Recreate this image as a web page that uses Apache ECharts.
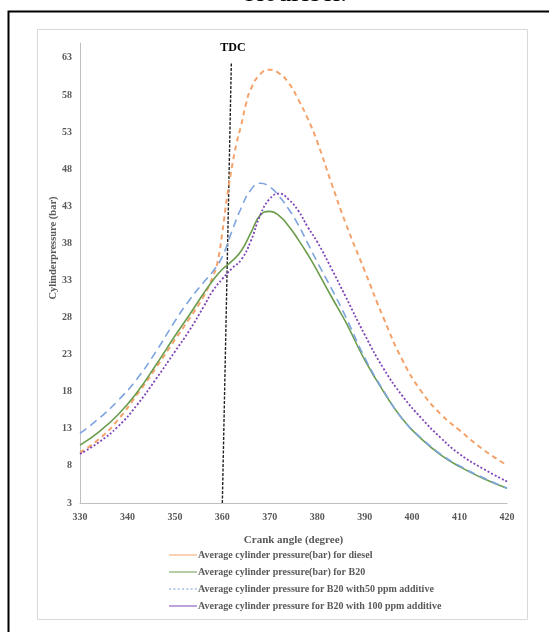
<!DOCTYPE html>
<html>
<head>
<meta charset="utf-8">
<script src="https://cdn.jsdelivr.net/npm/echarts@6/dist/echarts.min.js"></script>
<style>html,body{margin:0;padding:0;background:#fff;}#c{width:549px;height:632px;}</style>
</head>
<body>
<div id="c"></div>
<script>
// ---- data ----
var crankAngle = [330,334,338,342,346,350,353,356,358,360,362,364,366,368,370,372,374,376,378,380,383,386,390,394,398,402,406,410,415,420];
var b20P       = [10.8,12.6,14.9,17.9,21.6,25.5,28.3,31.2,33.0,34.5,35.6,37.0,39.4,41.8,42.3,41.7,40.3,38.5,36.5,34.3,30.8,27.4,22.3,18.0,14.3,11.6,9.5,7.9,6.3,5.0];
var b20Add50P  = [12.4,14.4,16.8,19.7,23.4,27.5,30.3,32.7,34.2,36.2,39.6,42.8,45.2,46.1,45.6,44.3,42.6,40.5,38.0,35.5,31.9,28.1,22.6,18.1,14.3,11.7,9.6,8.0,6.4,5.0];
var b20Add100P = [9.6,11.2,13.3,16.2,19.7,23.4,26.2,29.4,31.6,33.2,34.6,35.8,38.3,41.8,44.0,44.7,43.9,42.4,40.2,38.2,34.6,30.8,25.7,21.1,17.4,14.4,11.8,9.6,7.6,5.9];
var dieselAngle = [330,334,338,342,346,350,353,356,358,359,360,361,362,363,364,365,366,368,370,372,374,376,378,380,383,386,390,394,398,402,406,410,415,420];
var dieselP     = [9.8,11.6,14.2,17.6,21.2,25.0,27.8,30.8,33.5,35.5,39.5,44.3,48.2,51.5,54.0,56.8,58.8,60.8,61.4,60.9,59.6,57.4,54.8,51.7,46.1,40.7,34.3,27.9,22.2,18.0,15.0,12.8,10.2,8.1];
var tdcAngle    = [360, 361.9];
var tdcPressure = [3, 62.4];
var seriesNames = [
  'Average cylinder pressure(bar) for diesel',
  'Average cylinder pressure(bar) for B20',
  'Average cylinder pressure for B20 with50 ppm additive',
  'Average cylinder pressure for B20 with 100 ppm additive'
];
var xTicks = {min: 330, max: 420, step: 10};
var yTicks = {min: 3, max: 65, step: 5};

function zip(xs, ys){ return xs.map(function(x,i){ return [x, ys[i]]; }); }

var FONT = "'Liberation Serif','Times New Roman',serif";
var GREY = '#595959';
var LINE_ICON = 'path://M0,0L28,0L28,1L0,1Z';
var DOT_ICON = 'path://M0,0L2,0L2,1L0,1ZM4,0L6,0L6,1L4,1ZM8,0L10,0L10,1L8,1ZM12,0L14,0L14,1L12,1ZM16,0L18,0L18,1L16,1ZM20,0L22,0L22,1L20,1ZM24,0L26,0L26,1L24,1Z';

var chart = echarts.init(document.getElementById('c'), null, {renderer:'canvas'});
chart.setOption({
  animation: false,
  backgroundColor: '#fff',
  graphic: [
    {type:'rect', shape:{x:8.5, y:11.5, width:600, height:700}, style:{fill:'none', stroke:'#000', lineWidth:2}, silent:true, z:-10},
    {type:'rect', shape:{x:37.5, y:29.5, width:490, height:590}, style:{fill:'none', stroke:'#D9D9D9', lineWidth:1}, silent:true, z:-9},
    {type:'text', x:295, y:-6, style:{text:'biodiesel.', font:'27px '+FONT, fill:'#000', textAlign:'center', textVerticalAlign:'middle'}, silent:true},
    {type:'text', x:53, y:248, rotation:Math.PI/2, style:{text:'Cylinderpressure (bar)', font:'bold 10.5px '+FONT, fill:GREY, textAlign:'center', textVerticalAlign:'middle'}, silent:true},
    {type:'text', x:233, y:48, style:{text:'TDC', font:'bold 12px '+FONT, fill:'#000', textAlign:'center', textVerticalAlign:'middle'}, silent:true}
  ],
  grid: {left:80, right:42, top:43, bottom:129, containLabel:false},
  xAxis: {
    type:'value', min:xTicks.min, max:xTicks.max, interval:xTicks.step,
    name:'Crank angle (degree)', nameLocation:'middle', nameGap:32,
    nameTextStyle:{fontFamily:FONT, fontWeight:'bold', fontSize:11, color:GREY},
    axisLine:{show:true, lineStyle:{color:'#BFBFBF', width:1}},
    axisTick:{show:false}, splitLine:{show:false},
    axisLabel:{fontFamily:FONT, fontWeight:'bold', fontSize:10, color:GREY, margin:9}
  },
  yAxis: {
    type:'value', min:yTicks.min, max:yTicks.max, interval:yTicks.step,
    axisLine:{show:true, lineStyle:{color:'#BFBFBF', width:1}},
    axisTick:{show:false}, splitLine:{show:false},
    axisLabel:{fontFamily:FONT, fontWeight:'bold', fontSize:10, color:GREY, margin:8, showMaxLabel:false}
  },
  legend: {
    orient:'vertical', left:169, top:550, padding:0, itemWidth:28, itemHeight:14, itemGap:7,
    textStyle:{fontFamily:FONT, fontWeight:'bold', fontSize:10, color:GREY, padding:[0,0,0,-4]},
    data:[
      {name:seriesNames[0], icon:LINE_ICON, itemStyle:{color:'#F4A26B'}},
      {name:seriesNames[1], icon:LINE_ICON, itemStyle:{color:'#6A9C4B'}},
      {name:seriesNames[2], icon:DOT_ICON, itemStyle:{color:'#7DA4DF'}},
      {name:seriesNames[3], icon:LINE_ICON, itemStyle:{color:'#7F44B8'}}
    ]
  },
  series: [
    {name:seriesNames[0], type:'line', data:zip(dieselAngle, dieselP), smooth:0.5, symbol:'none',
     lineStyle:{color:'#F4A26B', width:2, type:[5,4]}, itemStyle:{color:'#F4A26B'}},
    {name:seriesNames[1], type:'line', data:zip(crankAngle, b20P), smooth:0.5, symbol:'none',
     lineStyle:{color:'#6A9C4B', width:1.6, type:'solid'}, itemStyle:{color:'#6A9C4B'}},
    {name:seriesNames[2], type:'line', data:zip(crankAngle, b20Add50P), smooth:0.5, symbol:'none',
     lineStyle:{color:'#7DA4DF', width:1.6, type:[8,5]}, itemStyle:{color:'#7DA4DF'}},
    {name:seriesNames[3], type:'line', data:zip(crankAngle, b20Add100P), smooth:0.5, symbol:'none',
     lineStyle:{color:'#7F44B8', width:1.8, type:[2,2]}, itemStyle:{color:'#7F44B8'}},
    {name:'TDC', type:'line', data:zip(tdcAngle, tdcPressure), symbol:'none', silent:true,
     lineStyle:{color:'#222', width:1.4, type:[3,1.5]}, z:1}
  ]
});
</script>
</body>
</html>
